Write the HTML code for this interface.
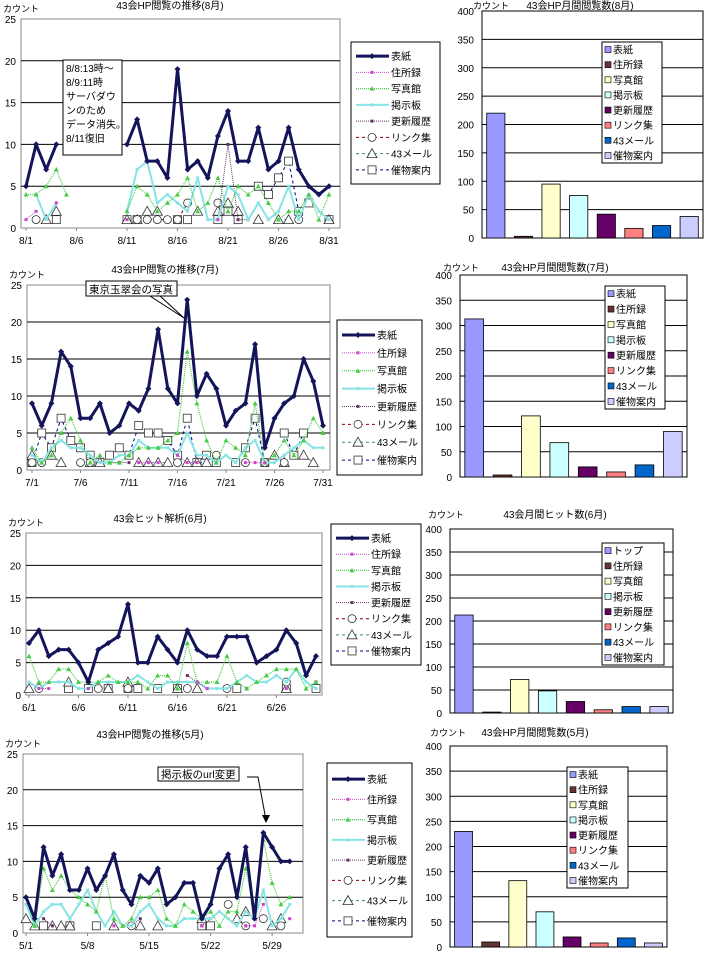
<!DOCTYPE html>
<html><head><meta charset="utf-8"><style>
body{margin:0;background:#fff;width:709px;height:959px;overflow:hidden}
svg{display:block;font-family:"Liberation Sans","Noto Sans CJK JP",sans-serif}
</style></head><body>
<svg id="s" width="709" height="959" viewBox="0 0 709 959" xmlns="http://www.w3.org/2000/svg"></svg>
<script>
const seriesNames=["表紙","住所録","写真館","掲示板","更新履歴","リンク集","43メール","催物案内"];
const barNames6=["トップ","住所録","写真館","掲示板","更新履歴","リンク集","43メール","催物案内"];
const yTicksLine=[0,5,10,15,20,25];
const yTicksBar=[0,50,100,150,200,250,300,350,400];
const N=null;
// August
const augCover=[5,10,7,10,N,N,N,N,N,N,10,13,8,8,6,19,7,8,6,11,14,8,8,12,7,8,12,7,5,4,5];
const augAddr=[1,2,N,3,N,N,N,N,N,N,1,N,N,N,N,N,N,N,N,1,N,N,N,N,N,N,N,N,N,N,N];
const augPhoto=[4,4,5,7,4,N,N,N,N,N,2,5,4,2,3,4,6,2,3,6,2,5,4,5,3,1,2,2,4,1,4];
const augBoard=[N,4,1,3,N,N,N,N,N,N,2,7,8,3,4,3,2,6,1,1,5,4,1,3,1,2,5,1,4,2,1];
const augUpdate=[N,N,N,N,N,N,N,N,N,N,N,N,N,N,N,N,N,N,N,1,10,1,1,N,N,N,N,N,N,N,N];
const augLink=[N,1,N,N,N,N,N,N,N,N,N,1,1,1,1,1,3,N,N,3,N,N,N,N,N,N,N,1,N,N,N];
const augMail=[N,N,1,2,N,N,N,N,N,N,1,1,2,2,N,N,N,2,N,2,3,2,N,1,N,1,1,N,N,N,1];
const augEvent=[N,N,N,1,N,N,N,N,N,N,1,1,N,N,N,1,1,N,N,1,2,1,N,5,4,6,8,2,3,N,1];
const augDays=["8/1","8/6","8/11","8/16","8/21","8/26","8/31"];
// July
const julCover=[9,6,9,16,14,7,7,9,5,6,9,8,11,19,11,9,23,10,13,11,6,8,9,17,3,7,9,10,15,12,6];
const julAddr=[N,N,N,N,N,N,N,N,N,N,N,1,1,1,N,2,1,1,N,N,N,N,1,1,1,N,N,N,N,N,N];
const julPhoto=[3,1,2,5,7,4,1,2,1,1,2,3,3,3,4,5,16,9,4,1,4,3,2,9,1,2,4,2,4,7,5];
const julBoard=[2,1,3,4,3,3,2,1,1,2,2,4,3,3,3,2,5,2,2,1,2,1,3,4,1,1,2,3,4,3,3];
const julUpdate=[N,N,N,N,N,N,N,N,1,1,1,N,N,N,N,N,N,N,N,N,N,N,N,N,N,N,N,N,N,N,N];
const julLink=[1,1,N,N,N,1,1,N,N,N,N,N,N,N,N,1,N,N,N,2,N,N,1,N,1,N,1,N,N,N,N];
const julMail=[2,N,2,1,N,N,1,1,N,N,N,1,1,1,1,N,1,1,1,N,N,N,N,N,N,2,1,N,2,1,N];
const julEvent=[1,5,3,7,4,3,2,1,2,3,2,6,5,5,4,2,7,1,2,1,N,1,3,7,1,N,5,2,5,N,N];
const julDays=["7/1","7/6","7/11","7/16","7/21","7/26","7/31"];
// June
const junCover=[8,10,6,7,7,5,2,7,8,9,14,5,5,9,7,5,10,7,6,6,9,9,9,5,6,7,10,8,3,6];
const junAddr=[N,1,1,N,N,N,1,N,N,N,N,N,N,N,N,N,N,2,1,N,N,N,N,N,N,N,1,N,N,N];
const junPhoto=[6,2,2,4,4,2,2,2,3,2,2,2,1,3,3,1,8,2,2,2,6,2,1,2,3,4,4,4,1,2];
const junBoard=[2,1,2,2,2,1,1,2,2,2,2,3,2,1,2,2,2,2,1,1,1,2,3,2,2,3,2,4,2,1];
const junUpdate=[N,N,N,N,N,N,N,N,N,N,N,N,N,N,N,N,3,2,1,N,N,N,1,N,N,N,N,N,N,2];
const junLink=[N,1,N,N,N,N,N,1,N,N,1,N,N,N,N,N,1,N,N,N,1,N,N,N,N,N,2,N,N,N];
const junMail=[1,N,N,N,2,N,N,N,1,N,2,N,N,N,N,1,N,1,N,N,N,N,N,N,N,N,1,N,N,N];
const junEvent=[N,N,N,N,1,N,1,N,1,N,1,1,N,1,N,1,N,N,N,N,N,1,N,N,N,N,1,N,N,1];
const junDays=["6/1","6/6","6/11","6/16","6/21","6/26"];
// May
const mayCover=[5,2,12,8,11,6,6,9,6,8,11,6,4,8,7,9,4,5,7,7,2,4,9,11,5,12,2,14,12,10,10];
const mayAddr=[N,N,N,N,N,N,N,N,N,N,1,N,N,N,N,N,N,N,N,N,1,N,N,N,N,1,1,4,N,N,2];
const mayPhoto=[5,1,9,6,8,6,5,4,3,8,2,1,2,5,5,6,2,1,4,3,2,3,1,3,3,9,3,13,7,4,5];
const mayBoard=[4,1,3,4,4,2,4,6,3,1,3,1,1,3,4,2,1,1,2,2,2,2,3,2,1,3,2,6,1,2,4];
const mayUpdate=[N,N,2,1,N,N,N,N,N,N,N,N,1,2,N,N,N,N,N,N,1,2,N,N,N,1,N,N,N,N,N];
const mayLink=[N,N,N,N,N,N,N,N,N,N,N,N,1,N,N,N,N,N,N,N,N,N,N,4,N,1,N,2,N,1,N];
const mayMail=[2,1,N,1,1,1,N,N,N,N,1,N,N,1,N,1,N,N,N,N,2,N,N,N,2,3,N,N,1,2,N];
const mayEvent=[N,N,1,N,N,1,N,N,1,N,N,N,N,N,N,N,N,N,N,N,1,1,N,N,N,N,N,N,N,N,N];
const mayDays=["5/1","5/8","5/15","5/22","5/29"];
// Bars
const barAug=[220,3,95,75,42,17,22,38];
const barJul=[313,4,121,68,20,10,24,90];
const barJun=[213,2,73,48,25,7,14,14];
const barMay=[230,10,132,70,20,8,18,8];

const svg=document.getElementById('s');const NS="http://www.w3.org/2000/svg";
function mk(t,a,p){const e=document.createElementNS(NS,t);for(const k in a)e.setAttribute(k,a[k]);(p||svg).appendChild(e);return e;}
function tx(x,y,s,fs,anchor,p){const e=mk('text',{x:x,y:y,'font-size':fs||10,'text-anchor':anchor||'start',fill:'#000'},p);e.textContent=s;return e;}
const styles=[
 {c:'#14145a',w:3,d:'',m:'diamond'},
 {c:'#cc44cc',w:1,d:'1,1',m:'dot'},
 {c:'#44cc44',w:1.2,d:'1,1',m:'tri'},
 {c:'#88e4e4',w:2,d:'',m:'dot'},
 {c:'#663366',w:1,d:'1,1',m:'dot'},
 {c:'#880000',w:1,d:'3,3',m:'circle'},
 {c:'#338888',w:1,d:'3,3',m:'otri'},
 {c:'#000080',w:1,d:'3,3',m:'square'}];
const lineBars=['#9999ff','#663333','#ffffcc','#ccffff','#660066','#ff8080','#0066cc','#ccccff'];
function marker(g,m,x,y,c){
 if(m==='diamond')mk('path',{d:`M${x} ${y-3}L${x+3} ${y}L${x} ${y+3}L${x-3} ${y}Z`,fill:c},g);
 else if(m==='dot')mk('rect',{x:x-1.5,y:y-1.5,width:3,height:3,fill:c},g);
 else if(m==='tri')mk('path',{d:`M${x} ${y-2.5}L${x+2.5} ${y+2}L${x-2.5} ${y+2}Z`,fill:c},g);
 else if(m==='circle')mk('circle',{cx:x,cy:y,r:4,fill:'#fff',stroke:'#333','stroke-width':0.8},g);
 else if(m==='otri')mk('path',{d:`M${x} ${y-5}L${x+5} ${y+4}L${x-5} ${y+4}Z`,fill:'#fff',stroke:'#333','stroke-width':0.8},g);
 else if(m==='square')mk('rect',{x:x-4,y:y-4,width:8,height:8,fill:'#fff',stroke:'#333','stroke-width':0.8},g);
}
function lineChart(cfg,data,name){
 const g=mk('g',{});
 const n=data[0].length;
 const X=i=>cfg.fx+i*(cfg.lx-cfg.fx)/(cfg.lastIdx);
 const Y=v=>cfg.y1-(v/25)*(cfg.y1-cfg.y0);
 mk('rect',{x:cfg.x0,y:cfg.y0,width:cfg.x1-cfg.x0,height:cfg.y1-cfg.y0,fill:'#fff',stroke:'#888'},g);
 yTicksLine.forEach(t=>{ if(t>0&&t<25)mk('line',{x1:cfg.x0,x2:cfg.x1,y1:Y(t),y2:Y(t),stroke:'#000'},g);
   tx(cfg.x0-5,Y(t)+4,String(t),10,'end',g);});
 cfg.labels.forEach((l,k)=>{const i=k*cfg.step;tx(X(i),cfg.y1+16,l,10,'middle',g);
   mk('line',{x1:X(i)+ (cfg.lx-cfg.fx)/cfg.lastIdx*(cfg.step/2>0?0:0),x2:X(i),y1:cfg.y1,y2:cfg.y1+3,stroke:'#888'},g);});
 tx(cfg.x0-18,cfg.y0-7,'カウント',9,'start',g);
 tx(cfg.tx,cfg.ty,cfg.title,10,'middle',g);
 for(let s=data.length-1;s>=0;s--){
  const st=styles[s];const arr=data[s];const sg=mk('g',{},g);
  
  let seg=[];const flush=()=>{if(seg.length>1)mk('polyline',{points:seg.join(' '),fill:'none',stroke:st.c,'stroke-width':st.w,'stroke-dasharray':st.d,'stroke-linejoin':'round'},sg);seg=[];};
  for(let i=0;i<n;i++){if(arr[i]===null){flush();continue;}seg.push(X(i)+','+Y(arr[i]));}
  flush();
  for(let i=0;i<n;i++)if(arr[i]!==null)marker(sg,st.m,X(i),Y(arr[i]),st.c);
 }
 // legend
 const lg=mk('g',{});
 mk('rect',{x:cfg.lgx,y:cfg.lgy,width:cfg.lgw,height:cfg.lgh,fill:'#fff',stroke:'#000'},lg);
 const sp=(cfg.lgh-12)/8;
 seriesNames.forEach((nm,k)=>{const yy=cfg.lgy+6+sp*(k+0.5);const st=styles[k];
  const e=mk('g',{},lg);
  mk('line',{x1:cfg.lgx+5,x2:cfg.lgx+38,y1:yy,y2:yy,stroke:st.c,'stroke-width':st.w,'stroke-dasharray':st.d},e);
  marker(e,st.m==='circle'||st.m==='otri'||st.m==='square'?st.m:st.m,cfg.lgx+21,yy,st.c);
  tx(cfg.lgx+40,yy+4,nm,10,'start',e);});
}
function barChart(cfg,vals,names,name){
 const g=mk('g',{});
 const Y=v=>cfg.y1-(v/400)*(cfg.y1-cfg.y0);
 mk('rect',{x:cfg.x0,y:cfg.y0,width:cfg.x1-cfg.x0,height:cfg.y1-cfg.y0,fill:'#fff',stroke:'#000'},g);
 yTicksBar.forEach(t=>{if(t>0&&t<400)mk('line',{x1:cfg.x0,x2:cfg.x1,y1:Y(t),y2:Y(t),stroke:'#000'},g);
   tx(cfg.x0-8,Y(t)+4,String(t),10,'end',g);});
 const slot=(cfg.x1-cfg.x0)/vals.length;
 vals.forEach((v,i)=>{const b=mk('rect',{x:cfg.x0+slot*i+slot*0.17,y:Y(v),width:slot*0.66,height:cfg.y1-Y(v),fill:lineBars[i],stroke:'#000','stroke-width':0.8},g);
  });
 tx(cfg.kx,cfg.ty,'カウント',9,'start',g);
 tx(cfg.tx,cfg.ty,cfg.title,10,'middle',g);
 const lg=mk('g',{},g);
 mk('rect',{x:cfg.lgx,y:cfg.lgy,width:cfg.lgw,height:cfg.lgh,fill:'#fff',stroke:'#000'},lg);
 const sp=cfg.lgh/8;
 names.forEach((nm,k)=>{const yy=cfg.lgy+sp*(k+0.5);
  mk('rect',{x:cfg.lgx+3,y:yy-3,width:6,height:6,fill:lineBars[k],stroke:'#000','stroke-width':0.6},lg);
  tx(cfg.lgx+11,yy+4,nm,10,'start',lg);});
}
lineChart({x0:21,x1:340,y0:19,y1:228,fx:26,lx:329,lastIdx:30,step:5,labels:augDays,tx:170,ty:9,title:'43会HP閲覧の推移(8月)',lgx:351,lgy:42,lgw:89,lgh:142},
 [augCover,augAddr,augPhoto,augBoard,augUpdate,augLink,augMail,augEvent],'line-chart-aug');
lineChart({x0:27,x1:330,y0:285,y1:470,fx:32,lx:323,lastIdx:30,step:5,labels:julDays,tx:165,ty:273,title:'43会HP閲覧の推移(7月)',lgx:337,lgy:320,lgw:85,lgh:155},
 [julCover,julAddr,julPhoto,julBoard,julUpdate,julLink,julMail,julEvent],'line-chart-jul');
lineChart({x0:26,x1:322,y0:533,y1:695,fx:29,lx:316,lastIdx:29,step:5,labels:junDays,tx:160,ty:522,title:'43会ヒット解析(6月)',lgx:331,lgy:524,lgw:90,lgh:141},
 [junCover,junAddr,junPhoto,junBoard,junUpdate,junLink,junMail,junEvent],'line-chart-jun');
lineChart({x0:23,x1:303,y0:754,y1:933,fx:26,lx:289.7,lastIdx:30,step:7,labels:mayDays,tx:150,ty:738,title:'43会HP閲覧の推移(5月)',lgx:327,lgy:763,lgw:85,lgh:174},
 [mayCover,mayAddr,mayPhoto,mayBoard,mayUpdate,mayLink,mayMail,mayEvent],'line-chart-may');
barChart({x0:482,x1:703,y0:11,y1:238,kx:473,tx:580,ty:9,title:'43会HP月間閲覧数(8月)',lgx:602,lgy:42,lgw:60,lgh:121},barAug,seriesNames,'bar-chart-aug');
barChart({x0:460,x1:687,y0:275,y1:477,kx:443,tx:555,ty:271,title:'43会HP月間閲覧数(7月)',lgx:605,lgy:286,lgw:60,lgh:123},barJul,seriesNames,'bar-chart-jul');
barChart({x0:450,x1:673,y0:529,y1:713,kx:428,tx:555,ty:518,title:'43会月間ヒット数(6月)',lgx:602,lgy:543,lgw:62,lgh:122},barJun,barNames6,'bar-chart-jun');
barChart({x0:450,x1:667,y0:746,y1:947,kx:430,tx:535,ty:736,title:'43会HP月間閲覧数(5月)',lgx:567,lgy:767,lgw:61,lgh:121},barMay,seriesNames,'bar-chart-may');
// annotations
const a1=mk('g',{});
mk('rect',{x:63,y:60,width:59,height:95,fill:'#fff',stroke:'#000'},a1);
['8/8:13時～','8/9:11時','サーバダウ','ンのため','データ消失。','8/11復旧'].forEach((l,i)=>tx(66,72+i*14,l,10,'start',a1));
const a2=mk('g',{});
mk('path',{d:'M160 296L184 318L150 296Z',fill:'#fff',stroke:'#000'},a2);
mk('rect',{x:86,y:281,width:91,height:15,fill:'#fff',stroke:'#000'},a2);
tx(89,293,'東京玉翠会の写真',10.5,'start',a2);
const a3=mk('g',{});
mk('rect',{x:158,y:767,width:81,height:14,fill:'#fff',stroke:'#000'},a3);
tx(161,778,'掲示板のurl変更',10.5,'start',a3);
mk('polyline',{points:'247,777 258,777 266,820',fill:'none',stroke:'#000'},a3);
mk('path',{d:'M262 815L270 815L266 823Z',fill:'#000'},a3);
</script>
</body></html>
